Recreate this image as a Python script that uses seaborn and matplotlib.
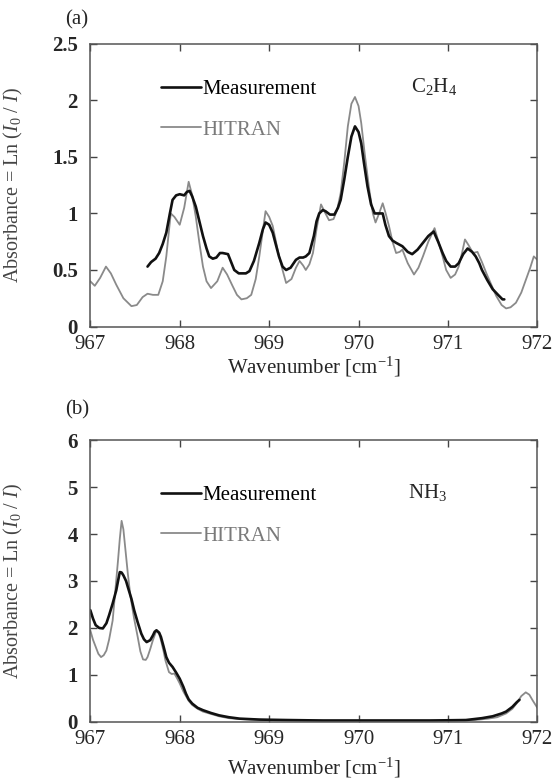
import numpy as np
import pandas as pd
import matplotlib
matplotlib.use("Agg")
import matplotlib.pyplot as plt
import seaborn as sns
from matplotlib.ticker import FormatStrFormatter, MultipleLocator

# (a) C2H4, HITRAN simulation
a_hitran_x = [967.00, 967.05, 967.11, 967.175, 967.23, 967.29, 967.37, 967.46, 967.52, 967.585,
              967.64, 967.70, 967.76, 967.81, 967.85, 967.88, 967.90, 967.94, 968.00, 968.05,
              968.10, 968.14, 968.18, 968.22, 968.26, 968.30, 968.35, 968.42, 968.48, 968.53,
              968.59, 968.64, 968.69, 968.75, 968.80, 968.85, 968.89, 968.93, 968.96, 969.00,
              969.04, 969.10, 969.15, 969.19, 969.25, 969.30, 969.34, 969.38, 969.41, 969.45,
              969.49, 969.53, 969.58, 969.63, 969.67, 969.72, 969.76, 969.80, 969.84, 969.88,
              969.92, 969.96, 970.00, 970.03, 970.07, 970.12, 970.16, 970.19, 970.23, 970.27,
              970.30, 970.34, 970.38, 970.42, 970.46, 970.49, 970.55, 970.62, 970.67, 970.72,
              970.78, 970.85, 970.89, 970.94, 970.98, 971.03, 971.08, 971.12, 971.16, 971.19,
              971.23, 971.28, 971.33, 971.38, 971.43, 971.49, 971.54, 971.60, 971.65, 971.70,
              971.76, 971.82, 971.87, 971.92, 971.96, 972.00]
a_hitran_y = [0.40, 0.36, 0.43, 0.53, 0.47, 0.37, 0.25, 0.18, 0.19, 0.26,
              0.29, 0.28, 0.28, 0.40, 0.62, 0.85, 1.00, 0.97, 0.90, 1.05,
              1.28, 1.16, 0.97, 0.74, 0.53, 0.40, 0.34, 0.40, 0.52, 0.46,
              0.36, 0.28, 0.24, 0.25, 0.28, 0.42, 0.62, 0.85, 1.02, 0.97,
              0.89, 0.66, 0.50, 0.385, 0.42, 0.52, 0.58, 0.54, 0.50, 0.55,
              0.65, 0.86, 1.08, 1.00, 0.94, 0.95, 1.03, 1.18, 1.45, 1.77,
              1.97, 2.03, 1.95, 1.80, 1.52, 1.21, 1.00, 0.92, 1.00, 1.09,
              1.01, 0.89, 0.75, 0.65, 0.66, 0.68, 0.56, 0.46, 0.52, 0.62,
              0.75, 0.87, 0.76, 0.62, 0.50, 0.43, 0.46, 0.53, 0.66, 0.77,
              0.72, 0.65, 0.66, 0.57, 0.47, 0.36, 0.27, 0.19, 0.16, 0.17,
              0.21, 0.30, 0.41, 0.52, 0.62, 0.59]

# (a) C2H4, measurement
a_meas_x = [967.64, 967.68, 967.73, 967.77, 967.81, 967.85, 967.89, 967.92, 967.96, 968.00,
            968.05, 968.08, 968.11, 968.14, 968.18, 968.22, 968.26, 968.30, 968.33, 968.37,
            968.41, 968.45, 968.48, 968.54, 968.58, 968.61, 968.66, 968.70, 968.74, 968.78,
            968.83, 968.89, 968.93, 968.96, 969.00, 969.04, 969.08, 969.11, 969.15, 969.19,
            969.24, 969.30, 969.34, 969.38, 969.41, 969.45, 969.50, 969.53, 969.56, 969.60,
            969.63, 969.68, 969.73, 969.77, 969.80, 969.84, 969.88, 969.92, 969.96, 970.00,
            970.03, 970.06, 970.10, 970.14, 970.18, 970.22, 970.27, 970.30, 970.34, 970.38,
            970.42, 970.49, 970.55, 970.60, 970.66, 970.72, 970.78, 970.84, 970.89, 970.94,
            970.98, 971.03, 971.08, 971.12, 971.17, 971.22, 971.27, 971.31, 971.35, 971.38,
            971.44, 971.50, 971.56, 971.61, 971.63]
a_meas_y = [0.53, 0.57, 0.60, 0.65, 0.73, 0.83, 1.00, 1.12, 1.16, 1.17,
            1.16, 1.19, 1.20, 1.15, 1.06, 0.93, 0.80, 0.69, 0.62, 0.60,
            0.61, 0.65, 0.65, 0.64, 0.56, 0.50, 0.47, 0.47, 0.47, 0.49,
            0.58, 0.74, 0.86, 0.92, 0.90, 0.83, 0.71, 0.62, 0.53, 0.50,
            0.52, 0.59, 0.61, 0.61, 0.62, 0.65, 0.80, 0.93, 1.00, 1.03,
            1.02, 0.99, 0.99, 1.05, 1.12, 1.30, 1.50, 1.68, 1.77, 1.72,
            1.62, 1.45, 1.24, 1.08, 1.00, 1.00, 1.00, 0.90, 0.80, 0.76,
            0.74, 0.71, 0.66, 0.64, 0.68, 0.74, 0.80, 0.84, 0.75, 0.65,
            0.58, 0.53, 0.53, 0.56, 0.64, 0.69, 0.66, 0.62, 0.56, 0.50,
            0.41, 0.33, 0.28, 0.24, 0.24]

# (b) NH3, HITRAN simulation
b_hitran_x = [967.00, 967.03, 967.06, 967.09, 967.12, 967.15, 967.18, 967.21, 967.25, 967.28,
              967.31, 967.33, 967.35, 967.37, 967.39, 967.42, 967.45, 967.49, 967.53, 967.56,
              967.59, 967.62, 967.64, 967.67, 967.70, 967.74, 967.77, 967.79, 967.82, 967.84,
              967.88, 967.91, 967.94, 967.97, 968.00, 968.04, 968.07, 968.10, 968.14, 968.20,
              968.26, 968.35, 968.44, 968.55, 968.67, 968.80, 969.00, 969.50, 970.00, 970.50,
              971.00, 971.30, 971.45, 971.55, 971.65, 971.72, 971.77, 971.82, 971.87, 971.91,
              971.95, 972.00]
b_hitran_y = [1.95, 1.75, 1.60, 1.45, 1.38, 1.42, 1.52, 1.75, 2.16, 2.80,
              3.44, 3.90, 4.28, 4.10, 3.72, 3.15, 2.66, 2.20, 1.81, 1.50,
              1.33, 1.32, 1.38, 1.55, 1.74, 1.95, 1.87, 1.74, 1.50, 1.31,
              1.06, 1.02, 1.03, 0.93, 0.82, 0.65, 0.55, 0.45, 0.36, 0.28,
              0.22, 0.17, 0.12, 0.08, 0.06, 0.05, 0.04, 0.03, 0.03, 0.03,
              0.03, 0.04, 0.07, 0.10, 0.18, 0.28, 0.40, 0.55, 0.63, 0.58,
              0.45, 0.30]

# (b) NH3, measurement
b_meas_x = [967.00, 967.03, 967.06, 967.10, 967.14, 967.18, 967.21, 967.25, 967.29, 967.31,
            967.33, 967.35, 967.37, 967.40, 967.42, 967.46, 967.49, 967.53, 967.57, 967.60,
            967.63, 967.67, 967.70, 967.72, 967.74, 967.77, 967.79, 967.82, 967.85, 967.88,
            967.92, 967.96, 968.00, 968.04, 968.07, 968.10, 968.14, 968.20, 968.26, 968.35,
            968.44, 968.55, 968.67, 968.89, 969.20, 969.60, 970.00, 970.40, 970.80, 971.20,
            971.38, 971.50, 971.60, 971.65, 971.72, 971.77, 971.80]
b_meas_y = [2.38, 2.20, 2.06, 2.00, 1.99, 2.10, 2.27, 2.52, 2.80, 3.00,
            3.19, 3.18, 3.12, 3.00, 2.87, 2.62, 2.38, 2.12, 1.88, 1.76,
            1.70, 1.74, 1.84, 1.92, 1.95, 1.90, 1.81, 1.60, 1.38, 1.26,
            1.17, 1.05, 0.92, 0.75, 0.60, 0.48, 0.39, 0.30, 0.25, 0.19,
            0.14, 0.10, 0.07, 0.05, 0.04, 0.03, 0.03, 0.03, 0.03, 0.04,
            0.08, 0.12, 0.18, 0.22, 0.32, 0.42, 0.47]

panel_labels = ["(a)", "(b)"]
species = [r"$\mathrm{C_2H_4}$", r"$\mathrm{NH_3}$"]
y_limits = [(0, 2.5), (0, 6)]
y_steps = [0.5, 1]

#%%
sns.set_style("ticks")
plt.rcParams["font.family"] = ["Liberation Serif", "DejaVu Serif"]
plt.rcParams["mathtext.fontset"] = "custom"
plt.rcParams["mathtext.rm"] = "Liberation Serif"
plt.rcParams["mathtext.it"] = "Liberation Serif:italic"
plt.rcParams["font.size"] = 15

meas_color = "#111111"
hitran_color = "#8a8a8a"

fig = plt.figure(figsize=(5.54, 7.83), dpi=100)
ax_a = fig.add_axes([0.163, 0.583, 0.807, 0.361])
ax_b = fig.add_axes([0.163, 0.078, 0.807, 0.360])

panels = [
    (ax_a, a_hitran_x, a_hitran_y, a_meas_x, a_meas_y),
    (ax_b, b_hitran_x, b_hitran_y, b_meas_x, b_meas_y),
]

for i, (ax, hx, hy, mx, my) in enumerate(panels):
    sns.lineplot(x=hx, y=hy, ax=ax, color=hitran_color, linewidth=1.3,
                 estimator=None, label="HITRAN")
    sns.lineplot(x=mx, y=my, ax=ax, color=meas_color, linewidth=1.9,
                 estimator=None, label="Measurement")

    ax.set_xlim(967, 972)
    ax.set_ylim(*y_limits[i])
    ax.xaxis.set_major_locator(MultipleLocator(1))
    ax.yaxis.set_major_locator(MultipleLocator(y_steps[i]))
    ax.yaxis.set_major_formatter(FormatStrFormatter("%g"))
    ax.xaxis.set_major_formatter(FormatStrFormatter("%d"))
    ax.tick_params(direction="in", top=True, right=True, length=5, width=1,
                   color="#444444", labelsize=15)
    ax.tick_params(axis="x", pad=6)
    ax.tick_params(axis="y", pad=9)
    for lab in ax.get_yticklabels():
        lab.set_fontweight("bold")
    for sp in ax.spines.values():
        sp.set_color("#555555")
        sp.set_linewidth(1.1)

    ax.set_xlabel(r"Wavenumber [cm$^{\mathrm{-1}}$]", fontsize=15,
                  labelpad=1 if i == 0 else 5)
    ax.set_ylabel(r"Absorbance = Ln ($I_0$ / $I$)", fontsize=14.5, color="#444444")
    ax.yaxis.set_label_coords(-0.145, 0.5)

    handles, labels = ax.get_legend_handles_labels()
    leg = ax.legend([handles[1], handles[0]], [labels[1], labels[0]],
                    loc="upper left", bbox_to_anchor=(0.117, 0.94 if i == 0 else 0.905),
                    frameon=False, handlelength=1.9, handletextpad=0.05,
                    labelspacing=1.0, fontsize=15)
    leg.get_texts()[0].set_color("black")
    leg.get_texts()[1].set_color("#7a7a7a")

    ax.text(0.77 if i == 0 else 0.755, 0.85 if i == 0 else 0.815, species[i],
            transform=ax.transAxes, ha="center", va="center", fontsize=15)

fig.text(0.117, 0.975, panel_labels[0], fontsize=15, va="center")
fig.text(0.117, 0.477, panel_labels[1], fontsize=15, va="center")

plt.savefig("out.png", dpi=100)
